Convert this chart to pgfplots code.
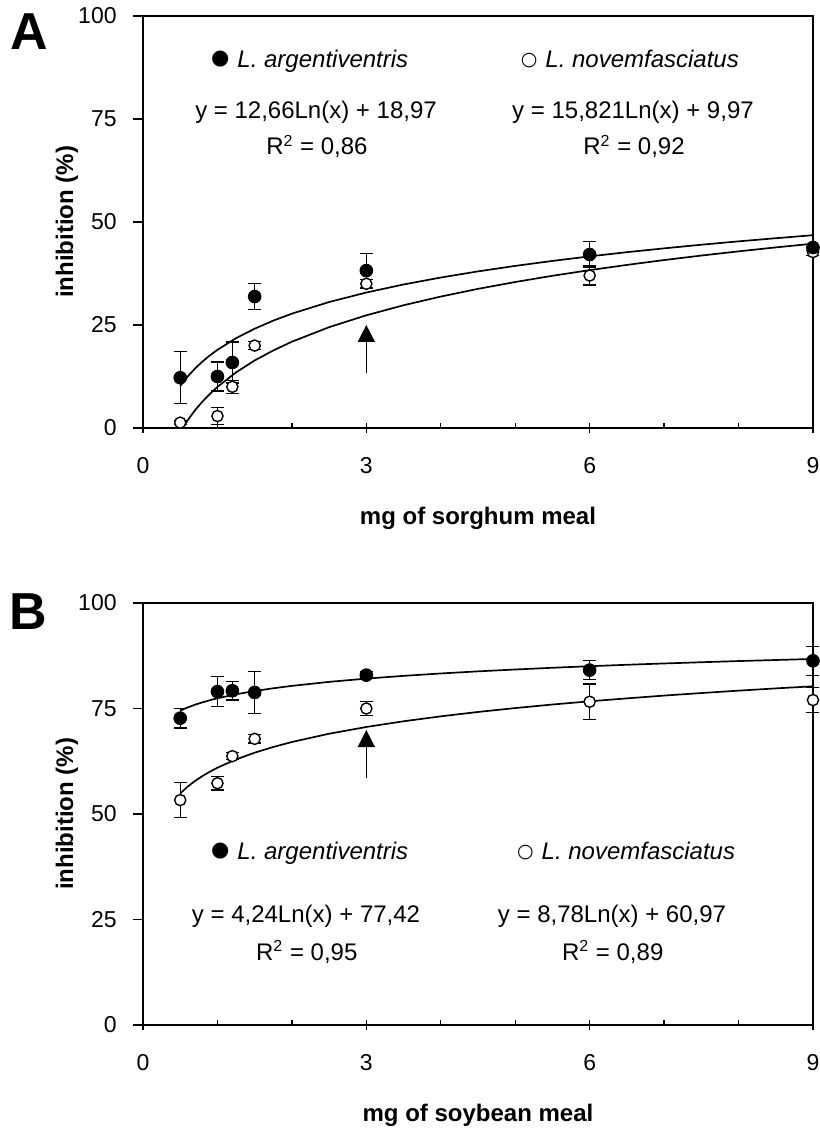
\documentclass[border=0pt]{standalone}
\usepackage{pgfplots}
\pgfplotsset{compat=1.18}
\usepackage{pgfplotstable}
\usepackage{fontspec}
\setmainfont{Liberation Sans}
\newfontfamily\symfont{DejaVu Sans}
\usetikzlibrary{arrows.meta}

\pgfplotstableread{
x y e
0.5 12.2 6.3
1 12.5 3.5
1.2 15.9 5.0
1.5 31.9 3.2
3 38.2 4.1
6 42.1 3.2
9 43.8 0.8
}\Afilled
\pgfplotstableread{
x y e
0.5 1.3 0.5
1 2.9 2.0
1.2 10.0 1.6
1.5 20.0 1.0
3 35.0 1.0
6 37.0 2.3
9 42.7 0.8
}\Aopen
\pgfplotstableread{
x y e
0.5 72.7 2.3
1 79.0 3.5
1.2 79.2 2.2
1.5 78.8 5.0
3 82.9 0.8
6 84.1 2.3
9 86.3 3.4
}\Bfilled
\pgfplotstableread{
x y e
0.5 53.3 4.1
1 57.3 1.6
1.2 63.7 0.8
1.5 67.8 1.0
3 75.0 1.6
6 76.6 4.2
9 77.0 3.0
}\Bopen

\tikzset{txt/.style={font=\fontsize{12}{14}\selectfont, inner sep=0pt}}
\newcommand{\fsym}{\raisebox{1.5pt}{\symfont\fontsize{10.5}{14}\selectfont ●}}
\newcommand{\osym}{\raisebox{1.4pt}{\symfont\fontsize{9.5}{14}\selectfont ○}}

\pgfplotsset{
  myaxis/.style={
    scale only axis, width=335pt, anchor=south west,
    xmin=0, xmax=9, ymin=0, ymax=100,
    xtick={0,3,6,9}, minor xtick={1,2,4,5,7,8},
    ytick={0,25,50,75,100},
    xtick pos=bottom, ytick pos=left,
    axis line style={line width=0.8pt},
    tick align=outside,
    major tick length=5pt, minor tick length=2.5pt,
    tick style={black, line width=0.7pt},
    major x tick style={yshift=2.5pt},
    minor x tick style={yshift=2.5pt},
    clip=false,
    /pgf/number format/assume math mode=true,
    ticklabel style={font=\fontsize{11.5}{13}\selectfont},
    xticklabel style={anchor=north, inner sep=0pt, yshift=-9.5pt},
    yticklabel style={anchor=east, inner sep=0pt, xshift=-8pt},
    every axis x label/.style={at={(axis description cs:0.5,0)}, anchor=base, yshift=-48.5pt, font=\fontsize{12}{14}\selectfont\bfseries},
    every axis y label/.style={at={(axis description cs:0,0.5)}, xshift=-35pt, rotate=90, anchor=base, font=\fontsize{12}{14}\selectfont\bfseries},
    ylabel={inhibition (\%)},
  },
  trend/.style={black, line width=0.85pt, no marks},
  filled/.style={only marks, mark=*, mark size=3.2pt, mark options={fill=black, draw=black},
    error bars/.cd, y dir=both, y explicit,
    error bar style={line width=0.65pt, black},
    error mark options={rotate=90, black, mark size=3.25pt, line width=0.65pt}},
  open/.style={only marks, mark=*, mark size=2.8pt, mark options={fill=white, draw=black, line width=0.7pt},
    error bars/.cd, y dir=both, y explicit,
    error bar style={line width=0.65pt, black},
    error mark options={rotate=90, black, mark size=3.25pt, line width=0.65pt}},
}

\begin{document}
\begin{tikzpicture}
\path[use as bounding box] (0,0) rectangle (409.5pt,564pt);

% ---------------- Panel A
\begin{axis}[myaxis, at={(71.5pt,350pt)}, height=206pt, xlabel={mg of sorghum meal}]
\addplot[trend] coordinates {(0.5,10.20) (0.6,12.50) (0.7,14.45) (0.8,16.15) (0.9,17.64) (1,18.97) (1.25,21.80) (1.5,24.10) (1.75,26.06) (2,27.75) (2.5,30.57) (3,32.88) (3.5,34.83) (4,36.52) (4.5,38.01) (5,39.34) (5.5,40.55) (6,41.65) (6.5,42.67) (7,43.60) (7.5,44.48) (8,45.30) (8.5,46.06) (9,46.79)};
\addplot[trend] coordinates {(0.532,0) (0.6,1.89) (0.7,4.33) (0.8,6.44) (0.9,8.30) (1,9.97) (1.25,13.50) (1.5,16.39) (1.75,18.82) (2,20.94) (2.5,24.47) (3,27.35) (3.5,29.79) (4,31.90) (4.5,33.77) (5,35.43) (5.5,36.94) (6,38.32) (6.5,39.58) (7,40.76) (7.5,41.85) (8,42.87) (8.5,43.83) (9,44.73)};
\addplot[open] table[x=x, y=y, y error=e] {\Aopen};
\addplot[filled] table[x=x, y=y, y error=e] {\Afilled};
\draw[line width=0.8pt, -{Triangle[length=8.5pt, width=8.5pt]}] (axis cs:3,13.3) -- (axis cs:3,25.0);
\node[txt, anchor=base west] at (axis cs:0.91,87.4) {\fsym\hspace{4pt}\textit{L. argentiventris}};
\node[txt, anchor=base west] at (axis cs:5.07,87.4) {\osym\hspace{4pt}\textit{L. novemfasciatus}};
\node[txt, anchor=base] at (axis cs:2.324,75.2) {y = 12,66Ln(x) + 18,97};
\node[txt, anchor=base] at (axis cs:2.337,66.3) {R\textsuperscript{2} = 0,86};
\node[txt, anchor=base] at (axis cs:6.582,75.2) {y = 15,821Ln(x) + 9,97};
\node[txt, anchor=base] at (axis cs:6.596,66.3) {R\textsuperscript{2} = 0,92};
\end{axis}

% ---------------- Panel B
\begin{axis}[myaxis, at={(71.5pt,51.5pt)}, height=211pt, xlabel={mg of soybean meal}]
\addplot[trend] coordinates {(0.5,74.48) (0.6,75.25) (0.7,75.91) (0.8,76.47) (0.9,76.97) (1,77.42) (1.25,78.37) (1.5,79.14) (1.75,79.79) (2,80.36) (2.5,81.31) (3,82.08) (3.5,82.73) (4,83.30) (4.5,83.80) (5,84.24) (5.5,84.65) (6,85.02) (6.5,85.36) (7,85.67) (7.5,85.96) (8,86.24) (8.5,86.49) (9,86.74)};
\addplot[trend] coordinates {(0.5,54.88) (0.6,56.49) (0.7,57.84) (0.8,59.01) (0.9,60.04) (1,60.97) (1.25,62.93) (1.5,64.53) (1.75,65.88) (2,67.06) (2.5,69.02) (3,70.62) (3.5,71.97) (4,73.14) (4.5,74.18) (5,75.10) (5.5,75.94) (6,76.70) (6.5,77.40) (7,78.06) (7.5,78.66) (8,79.23) (8.5,79.76) (9,80.26)};
\addplot[open] table[x=x, y=y, y error=e] {\Bopen};
\addplot[filled] table[x=x, y=y, y error=e] {\Bfilled};
\draw[line width=0.8pt, -{Triangle[length=8.5pt, width=8.5pt]}] (axis cs:3,58.5) -- (axis cs:3,69.9);
\node[txt, anchor=base west] at (axis cs:0.91,39.1) {\fsym\hspace{4pt}\textit{L. argentiventris}};
\node[txt, anchor=base west] at (axis cs:5.02,39.1) {\osym\hspace{4pt}\textit{L. novemfasciatus}};
\node[txt, anchor=base] at (axis cs:2.19,24.2) {y = 4,24Ln(x) + 77,42};
\node[txt, anchor=base] at (axis cs:2.20,15.4) {R\textsuperscript{2} = 0,95};
\node[txt, anchor=base] at (axis cs:6.30,24.2) {y = 8,78Ln(x) + 60,97};
\node[txt, anchor=base] at (axis cs:6.31,15.4) {R\textsuperscript{2} = 0,89};
\end{axis}

\node[font=\fontsize{26}{28}\selectfont\bfseries, inner sep=0pt] at (14.5pt,548pt) {A};
\node[font=\fontsize{26}{28}\selectfont\bfseries, inner sep=0pt] at (14pt,258pt) {B};
\end{tikzpicture}
\end{document}
